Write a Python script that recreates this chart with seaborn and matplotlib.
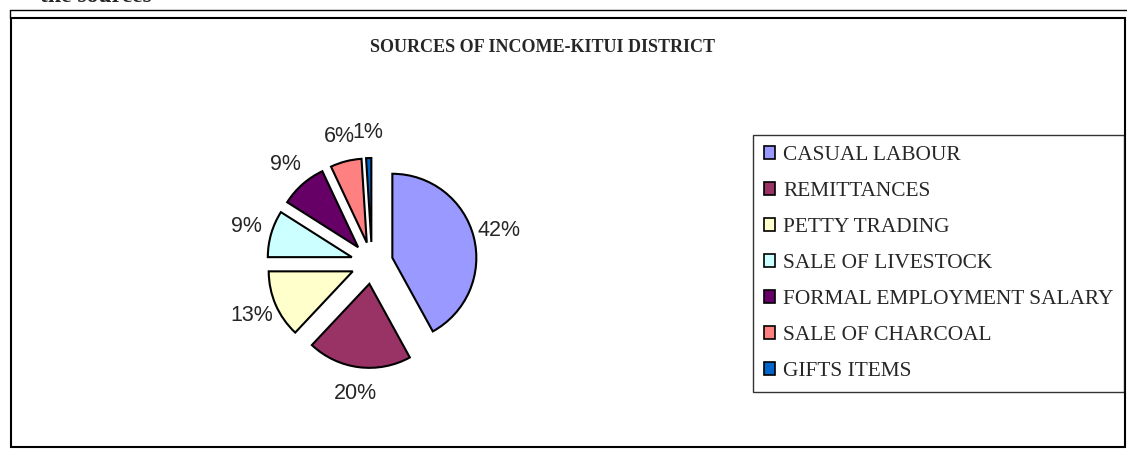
import matplotlib
matplotlib.use("Agg")
import matplotlib.pyplot as plt
import seaborn as sb
from matplotlib.patches import Patch, Rectangle
from matplotlib.lines import Line2D

# income sources and their shares (%)
sources = ["CASUAL LABOUR", "REMITTANCES", "PETTY TRADING", "SALE OF LIVESTOCK",
           "FORMAL EMPLOYMENT SALARY", "SALE OF CHARCOAL", "GIFTS ITEMS"]
shares = [42, 20, 13, 9, 9, 6, 1]
colors = ["#9999FF", "#993366", "#FFFFCC", "#CCFFFF", "#660066", "#FF8080", "#0066CC"]

sb.set_style("white")
plt.rcParams['font.family'] = ['Liberation Serif', 'DejaVu Serif']

W, H = 1127, 449
fig = plt.figure(figsize=(W / 100, H / 100), dpi=100)

# frame around the chart (page border look)
fig.add_artist(Rectangle((11 / W, 1 - 447 / H), (1125 - 11) / W, (447 - 18) / H,
                         transform=fig.transFigure, fill=False, edgecolor="black", linewidth=1.5))
fig.add_artist(Line2D([10 / W, 1.0], [1 - 10 / H, 1 - 10 / H], transform=fig.transFigure,
                      color="black", linewidth=1))
fig.add_artist(Line2D([10 / W, 10 / W], [1 - 10 / H, 1 - 18 / H], transform=fig.transFigure,
                      color="black", linewidth=1))

# cut-off heading from the page above
fig.text(152 / W, 1 - 2 / H, "the sources", fontsize=17, fontweight="bold", va="baseline", ha="right")

fig.text(543 / W, 1 - 47 / H, "SOURCES OF INCOME-KITUI DISTRICT", fontsize=13,
         fontweight="bold", ha="center", va="center")

# pie axes, centred near (372, 262) px, radius ~84 px
cx, cy, half = 372, 263, 160
ax = fig.add_axes([(cx - half) / W, (H - cy - half) / H, 2 * half / W, 2 * half / H])
wedges, texts, autotexts = ax.pie(shares, colors=colors, startangle=90, counterclock=False,
                                  explode=[0.25] * len(shares), autopct='%1.0f%%', pctdistance=1.31,
                                  wedgeprops=dict(edgecolor="black", linewidth=1.5))
for t in autotexts:
    t.set_fontfamily(['Liberation Sans', 'DejaVu Sans'])
    t.set_fontsize(15.5)
lim = half / 84
ax.set_xlim(-lim, lim)
ax.set_ylim(-lim, lim)
ax.axis('off')

handles = [Patch(facecolor=c, edgecolor="black", linewidth=1.2) for c in colors]
leg = fig.legend(handles, sources, loc="upper left", bbox_to_anchor=(753 / W, 1 - 135 / H),
                 fontsize=15.4, frameon=True, fancybox=False, edgecolor="black",
                 handlelength=0.55, handleheight=0.55, handletextpad=0.35, labelspacing=0.8,
                 borderpad=0.5, borderaxespad=0)
leg.get_frame().set_linewidth(1)

fig.savefig("out.png", dpi=100)
